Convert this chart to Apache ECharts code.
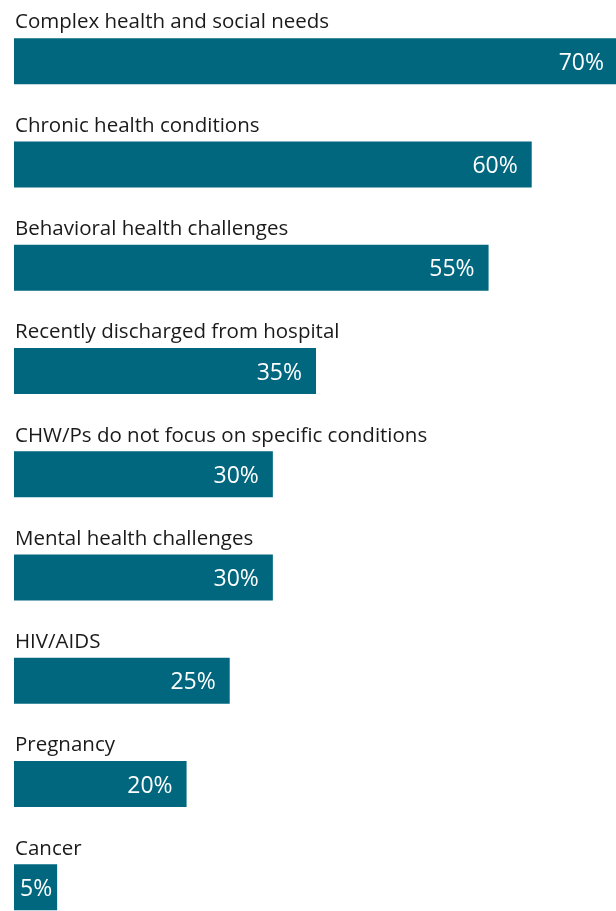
<!DOCTYPE html>
<html>
<head>
<meta charset="utf-8">
<script src="https://cdn.jsdelivr.net/npm/echarts@6/dist/echarts.min.js"></script>
<style>
  html, body { margin: 0; padding: 0; background: #ffffff; }
  #chart { width: 616px; height: 911px; }
</style>
</head>
<body>
<div id="chart"></div>
<script>
const categories = [
  'Complex health and social needs',
  'Chronic health conditions',
  'Behavioral health challenges',
  'Recently discharged from hospital',
  'CHW/Ps do not focus on specific conditions',
  'Mental health challenges',
  'HIV/AIDS',
  'Pregnancy',
  'Cancer'
];
const shares = [70, 60, 55, 35, 30, 30, 25, 20, 5];

const chart = echarts.init(document.getElementById('chart'), null, { renderer: 'canvas' });
const FONT = '"Open Sans", sans-serif';

// short bars get their value tucked closer to the bar end
const barData = shares.map(v => v < 10
  ? { value: v, label: { distance: 5 } }
  : v);

chart.setOption({
  animation: false,
  grid: {
    left: 14, top: 9.5, right: -2, bottom: -28,
    containLabel: false,
    outerBoundsMode: 'none'
  },
  xAxis: {
    type: 'value', min: 0, max: 70,
    show: false
  },
  yAxis: {
    type: 'category',
    data: categories,
    inverse: true,
    axisLine: { show: false },
    axisTick: { show: false },
    splitLine: { show: false },
    axisLabel: {
      inside: true,
      margin: 1,
      align: 'left',
      verticalAlign: 'bottom',
      padding: [0, 0, 28, 0],
      color: '#1a1a1a',
      fontFamily: FONT,
      fontSize: 20.5
    }
  },
  series: [{
    type: 'bar',
    data: barData,
    barWidth: 46,
    itemStyle: { color: '#00677f' },
    label: {
      show: true,
      position: 'insideRight',
      distance: 14,
      offset: [0, 2],
      formatter: '{c}%',
      color: '#ffffff',
      fontFamily: FONT,
      fontSize: 23
    }
  }]
});
</script>
</body>
</html>
